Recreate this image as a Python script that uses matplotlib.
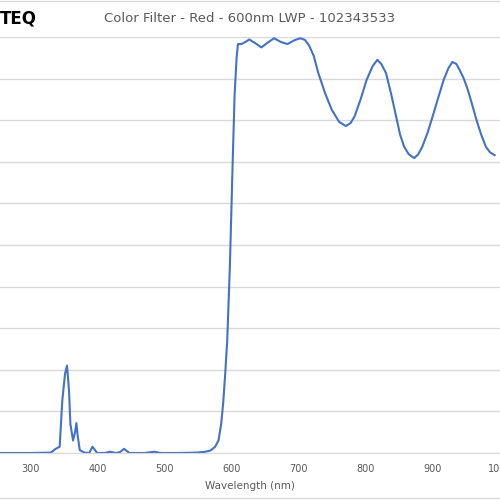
import matplotlib.pyplot as plt

wavelength = [254, 300, 330, 337, 343, 347, 351, 354, 357, 359, 363, 366, 368, 370, 373, 380,
              387, 392, 399, 410, 418, 427, 433, 439, 447, 470, 484, 494, 520, 548, 560, 568,
              575, 580, 584, 587, 590, 593, 597, 601, 604, 607, 609, 614, 620, 626, 635, 644,
              653, 663, 673, 683, 693, 702, 709, 715, 722, 729, 739, 749, 760, 770, 777, 783,
              792, 801, 810, 817, 823, 830, 838, 845, 851, 857, 864, 872, 878, 884, 892, 901,
              908, 916, 923, 929, 935, 940, 946, 952, 958, 965, 972, 979, 985, 992]
transmission = [0, 0, 0.1, 1, 1.5, 12.7, 19, 21, 15, 7, 3, 5, 7.2, 4, 0.7, 0.1,
                0, 1.5, 0, 0, 0.3, 0, 0.2, 1, 0, 0, 0.3, 0, 0, 0.1, 0.3, 0.6,
                1.5, 3, 7, 12, 19, 27, 45, 69, 86, 95, 98.3, 98.3, 98.8, 99.4, 98.5, 97.5,
                98.6, 99.7, 98.8, 98.3, 99.2, 99.7, 99.3, 98, 95.5, 91.3, 86.5, 82.5, 79.6, 78.6, 79.3, 80.9,
                85, 89.7, 93, 94.5, 93.5, 91.3, 86, 80.9, 76.5, 73.6, 71.8, 70.9, 71.8, 73.6, 77, 81.7,
                85.5, 89.7, 92.5, 94, 93.5, 92, 90, 87.3, 84, 80, 76.5, 73.6, 72.3, 71.6]
xticks = [300, 400, 500, 600, 700, 800, 900, 1000]

fig = plt.figure(figsize=(5, 5), dpi=100)
ax = fig.add_axes([0, 0.094, 1, 0.832])
ax.plot(wavelength, transmission, color="#4472C4", linewidth=1.5)
ax.set_xlim(254, 991)
ax.set_ylim(0, 100)
ax.set_yticks(range(0, 101, 10))
ax.set_xticks(xticks)
ax.set_xticklabels([str(t) for t in xticks], fontsize=7, color="#595959")
ax.tick_params(length=0, pad=8, labelleft=False)
ax.grid(axis="y", color="#D9D9D9", linewidth=1)
for s in ["top", "left", "right"]:
    ax.spines[s].set_visible(False)
ax.spines["bottom"].set_color("#D9D9D9")
ax.set_xlabel("Wavelength (nm)", fontsize=7.5, color="#595959", labelpad=5)
ax.set_axisbelow(True)

fig.text(0.5, 0.962, "Color Filter - Red - 600nm LWP - 102343533", ha="center", va="center",
         fontsize=9.5, color="#595959")
fig.text(0.0, 0.962, "TEQ", ha="left", va="center", fontsize=12, fontweight="bold", color="black")
fig.add_artist(plt.Line2D([0, 1], [0.998, 0.998], color="#D9D9D9", linewidth=1))
fig.add_artist(plt.Line2D([0, 1], [0.004, 0.004], color="#D9D9D9", linewidth=1))

fig.savefig("out.png", dpi=100)
